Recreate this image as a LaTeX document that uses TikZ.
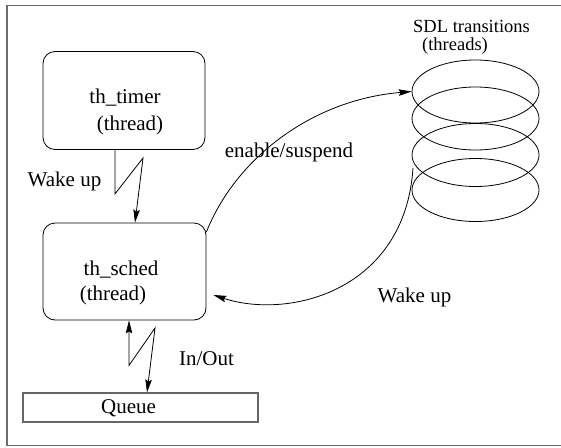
\documentclass[tikz,border=0pt]{standalone}
\usepackage{fontspec}
\setmainfont{Liberation Serif}
\usetikzlibrary{arrows.meta,shapes.geometric}
\tikzset{mytip/.tip={Stealth[length=13pt,width=6.5pt,inset=2pt]}}
\begin{document}
\begin{tikzpicture}[x=1pt,y=-1pt, line width=0.8pt,
  box/.style={draw=black, rounded corners=12pt, minimum width=162pt, minimum height=98pt, inner sep=0pt},
  lbl/.style={font=\fontsize{21}{25}\selectfont, inner sep=0pt},
  small/.style={font=\fontsize{18.5}{20}\selectfont, inner sep=0pt},
  coil/.style={draw, ellipse, minimum width=127pt, minimum height=63pt, inner sep=0pt},
  arr/.style={-{mytip}},
]
\useasboundingbox (0,0) rectangle (561,447);
% frame
\draw[gray!85!black, line width=1.1pt] (561,5.5) -- (7,5.5) -- (7,445.5) -- (561,445.5);

% boxes
\node[box] (timer) at (124,100.5) {};
\node[lbl] (timertxt) at (125,98) {th\_timer};
\node[lbl] (timerth) at (130,125) {(thread)};

\node[box, minimum width=163pt, minimum height=97pt] (sched) at (124.5,271.5) {};
\node[lbl] (schedtxt) at (121,270) {th\_sched};
\node[lbl] (schedth) at (113,295) {(thread)};

\node[draw=gray!80!black, line width=1.1pt, minimum width=235pt, minimum height=29pt, inner sep=0pt] (queue) at (140.5,407.5) {};
\node[lbl] (queuetxt) at (128.5,408) {Queue};

% coils
\node[coil] (ell1) at (475.5,91.5) {};
\node[coil] (ell2) at (475.5,118.5) {};
\node[coil] (ell3) at (475.5,155) {};
\node[coil] (ell4) at (475.5,190) {};
\node[small] (sdl) at (471.5,26.5) {SDL transitions};
\node[small] (sdlth) at (455,46) {(threads)};

% lightning arrows
\draw[arr] ([xshift=-9pt]timer.south) -- ++(0,44) coordinate (z1) -- (143,158) coordinate (z2) -- ([xshift=10.5pt]sched.north);
\node[lbl] (wake1) at (64.5,181) {Wake up};

\draw[{mytip}-{mytip}] ([xshift=4.5pt]sched.south) -- ++(0,45) coordinate (z3) -- (155,328) coordinate (z4) -- ([xshift=6.5pt]queue.north);
\node[lbl] (inout) at (206.5,359) {In/Out};

% curved arrows
\draw[arr] ([yshift=39.5pt]sched.east) .. controls (235,160) and (310,100) .. (ell1.west);
\node[lbl] (enable) at (289,152) {enable/suspend};

\coordinate (wsrc) at (413,168);
\draw[arr] (wsrc) .. controls (405,290) and (290,320) .. ([xshift=7pt,yshift=-23.5pt]sched.east);
\node[lbl] (wake2) at (414.5,297) {Wake up};
\end{tikzpicture}
\end{document}
